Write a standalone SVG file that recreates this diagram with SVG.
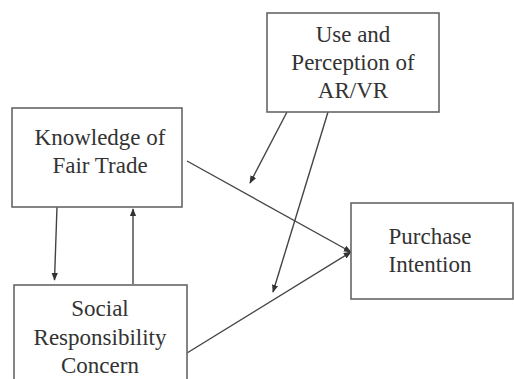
<svg xmlns="http://www.w3.org/2000/svg" width="514" height="379" viewBox="0 0 514 379">
<defs>
<style>
.box{fill:#fff;stroke:#666;stroke-width:1.6}
.edge{stroke:#444;stroke-width:1.4;fill:none;marker-end:url(#ah)}
</style>
<marker id="ah" viewBox="0 0 10 10" refX="9" refY="5" markerWidth="8" markerHeight="8" markerUnits="userSpaceOnUse" orient="auto">
<path d="M0,1 L10,5 L0,9 z" fill="#333"/>
</marker>
</defs>
<rect width="514" height="379" fill="#fff"/>
<g id="connectors">
<line class="edge" x1="57" y1="207" x2="54.5" y2="280"/>
<line class="edge" x1="133" y1="284" x2="133" y2="209"/>
<line class="edge" x1="187" y1="161" x2="351" y2="252"/>
<line class="edge" x1="187" y1="353" x2="351" y2="252"/>
<line class="edge" x1="287" y1="112" x2="250" y2="183"/>
<line class="edge" x1="328" y1="112" x2="273" y2="292"/>
</g>
<g font-family="Liberation Serif, DejaVu Serif, serif" font-size="23" fill="#333" text-anchor="middle">
<g id="arvr">
<rect class="box" x="267" y="13" width="172" height="99"/>
<text x="353" y="42">Use and</text>
<text x="353" y="70">Perception of</text>
<text x="353" y="98">AR/VR</text>
</g>
<g id="knowledge">
<rect class="box" x="12" y="108" width="170" height="99"/>
<text x="100" y="145">Knowledge of</text>
<text x="100" y="173">Fair Trade</text>
</g>
<g id="social">
<rect class="box" x="14" y="285" width="173" height="110"/>
<text x="100" y="316">Social</text>
<text x="100" y="345">Responsibility</text>
<text x="100" y="373">Concern</text>
</g>
<g id="purchase">
<rect class="box" x="351" y="203" width="162" height="96"/>
<text x="430" y="244">Purchase</text>
<text x="430" y="272">Intention</text>
</g>
</g>
</svg>
